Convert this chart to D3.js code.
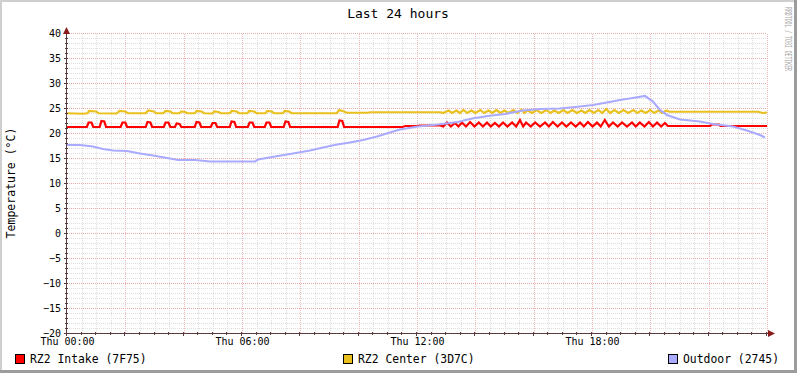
<!DOCTYPE html>
<html>
<head>
<meta charset="utf-8">
<script src="https://cdn.jsdelivr.net/npm/d3@7"></script>
<style>
  html, body { margin: 0; padding: 0; background: #fff; }
  svg { display: block; font-family: "DejaVu Sans Mono", monospace; }
</style>
</head>
<body>
<svg id="chart" width="797" height="373"></svg>
<script>
// series as [hour since Thu 00:00, temperature]
const intake = [
  [0,21.2],[0.68,21.2],[0.74,22.1],[0.84,22.1],[0.90,21.2],
  [1.12,21.2],[1.18,22.4],[1.28,22.3],[1.34,21.2],
  [1.84,21.2],[1.90,22.1],[2.00,22.1],[2.06,21.2],
  [2.70,21.2],[2.76,22.2],[2.86,22.1],[2.92,21.2],
  [3.32,21.2],[3.38,22.1],[3.48,22.1],[3.54,21.2],
  [3.70,21.2],[3.76,21.9],[3.86,21.8],[3.92,21.2],
  [4.38,21.2],[4.44,22.2],[4.54,22.1],[4.60,21.2],
  [4.93,21.2],[4.99,22.0],[5.09,22.0],[5.15,21.2],
  [5.58,21.2],[5.64,22.3],[5.74,22.2],[5.80,21.2],
  [6.20,21.2],[6.26,22.1],[6.36,22.1],[6.42,21.2],
  [6.78,21.2],[6.84,22.1],[6.94,22.1],[7.00,21.2],
  [7.43,21.2],[7.49,22.3],[7.59,22.2],[7.65,21.2],
  [9.28,21.2],[9.34,22.5],[9.44,22.4],[9.50,21.2],
  [11.5,21.2],[11.6,21.4],[12.0,21.4],[12.1,21.5],[12.8,21.5],
  [12.9,21.3],[13.03,22.1],[13.16,21.3],[13.30,22.0],[13.42,21.3],[13.54,22.1],[13.68,21.3],
  [13.82,22.2],[13.97,21.3],[14.12,22.1],[14.26,21.3],[14.40,22.1],[14.53,21.3],[14.67,22.0],
  [14.81,21.3],[14.95,22.1],[15.10,21.3],[15.26,22.1],[15.40,21.3],[15.53,22.6],[15.64,21.3],
  [15.74,22.1],[15.90,21.3],[16.05,22.1],[16.22,21.3],[16.39,22.1],[16.52,21.3],[16.66,22.2],
  [16.82,21.3],[16.97,22.1],[17.12,21.3],[17.28,22.1],[17.44,21.3],[17.59,22.1],[17.72,21.3],
  [17.86,22.2],[18.02,21.3],[18.17,22.1],[18.30,21.3],[18.44,22.6],[18.58,21.3],[18.72,22.1],
  [18.88,21.3],[19.03,22.1],[19.20,21.3],[19.37,22.1],[19.50,21.3],[19.64,22.1],[19.80,21.3],
  [19.95,22.2],[20.09,21.3],[20.23,22.1],[20.37,21.3],[20.50,22.0],[20.60,21.4],
  [22.05,21.4],[22.1,21.7],[22.35,21.7],[22.4,21.4],[24,21.4]
];
const center = [
  [0,23.95],[0.55,23.85],[0.70,23.95],[0.76,24.4],[1.0,24.3],[1.08,23.95],
  [1.7,23.9],[1.8,24.4],[2.0,24.3],[2.08,23.95],
  [2.7,23.95],[2.78,24.5],[2.98,24.3],[3.05,23.95],
  [3.3,23.95],[3.38,24.4],[3.55,24.3],[3.62,23.95],
  [3.85,23.95],[3.92,24.3],[4.05,24.2],[4.12,23.95],
  [4.38,23.95],[4.45,24.4],[4.62,24.3],[4.7,23.95],
  [4.98,23.9],[5.05,24.3],[5.2,24.2],[5.27,23.95],
  [5.58,23.95],[5.65,24.4],[5.82,24.3],[5.9,23.95],
  [6.18,23.95],[6.25,24.4],[6.42,24.3],[6.5,23.95],
  [6.8,23.95],[6.87,24.4],[7.02,24.3],[7.1,23.95],
  [7.4,23.95],[7.47,24.4],[7.62,24.3],[7.7,23.95],
  [9.25,23.95],[9.33,24.6],[9.5,24.3],[9.58,24.05],
  [10.3,24.05],[10.4,24.15],[12.8,24.15],
  [12.9,24.0],[13.08,24.5],[13.2,24.0],[13.35,24.5],[13.47,24.0],[13.59,24.6],[13.72,24.0],
  [13.87,24.5],[14.0,24.0],[14.17,24.6],[14.3,24.0],[14.45,24.5],[14.58,24.0],[14.72,24.6],
  [14.86,24.0],[15.0,24.5],[15.14,24.0],[15.31,24.6],[15.44,24.0],[15.58,24.7],[15.68,24.0],
  [15.79,24.5],[15.95,24.0],[16.1,24.6],[16.26,24.0],[16.44,24.6],[16.57,24.0],[16.71,24.5],
  [16.86,24.0],[17.02,24.6],[17.16,24.0],[17.33,24.6],[17.48,24.0],[17.64,24.5],[17.77,24.0],
  [17.91,24.6],[18.06,24.0],[18.22,24.6],[18.35,24.0],[18.49,24.8],[18.62,24.0],[18.77,24.6],
  [18.92,24.0],[19.08,24.6],[19.24,24.0],[19.42,24.6],[19.55,24.0],[19.69,24.5],[19.84,24.0],
  [20.0,24.6],[20.13,24.0],[20.28,24.5],[20.41,24.0],[20.55,24.5],[20.65,24.25],
  [23.7,24.25],[23.85,24.0],[24,24.1]
];
const outdoor = [
  [0,17.6],[0.45,17.6],[0.89,17.3],[1.23,16.8],[1.58,16.5],[2.06,16.4],[2.5,15.9],
  [2.95,15.5],[3.43,15.0],[3.81,14.6],[4.39,14.6],[4.9,14.3],[6.45,14.3],[6.55,14.7],
  [7.13,15.3],[7.75,15.9],[8.33,16.5],[8.78,17.1],[9.26,17.7],[9.7,18.1],[10.15,18.6],
  [10.63,19.3],[11.07,20.1],[11.42,20.7],[12.03,21.3],[12.72,21.7],[13.4,22.2],[13.89,22.9],
  [14.43,23.4],[15.02,23.8],[15.63,24.5],[16.22,24.8],[16.9,24.9],[17.59,25.3],[18.03,25.6],
  [18.51,26.1],[18.96,26.6],[19.4,27.0],[19.82,27.4],[20.09,26.3],[20.33,24.6],[20.57,23.6],
  [21.02,22.7],[21.7,22.3],[22.15,21.8],[22.83,21.3],[23.31,20.5],[23.76,19.6],[23.93,19.1]
];

const seriesNames = ['RZ2 Intake (7F75)', 'RZ2 Center (3D7C)', 'Outdoor (2745)'];
const seriesColors = ['#ff0000', '#eac01e', '#aaaaff'];
const xTickHours = [0, 6, 12, 18];
const xTickLabels = ['Thu 00:00', 'Thu 06:00', 'Thu 12:00', 'Thu 18:00'];
const yTicks = [-20, -15, -10, -5, 0, 5, 10, 15, 20, 25, 30, 35, 40];

const svg = d3.select('#chart');
const W = 797, H = 373;

// frame (rrdtool shade)
svg.append('rect').attr('width', W).attr('height', H).attr('fill', '#fff');
svg.append('rect').attr('x', 0).attr('y', 0).attr('width', W).attr('height', 2).attr('fill', '#cfcfcf');
svg.append('rect').attr('x', 0).attr('y', 0).attr('width', 2).attr('height', H).attr('fill', '#cfcfcf');
svg.append('rect').attr('x', 0).attr('y', H - 3).attr('width', W).attr('height', 3).attr('fill', '#9c9c9c');
svg.append('rect').attr('x', W - 3).attr('y', 0).attr('width', 3).attr('height', H).attr('fill', '#9c9c9c');

const x = d3.scaleLinear().domain([0, 24]).range([67, 767]);
const y = d3.scaleLinear().domain([-20, 40]).range([333, 33]);

const grid = svg.append('g').attr('shape-rendering', 'crispEdges');
// minor grid (skip where a major line sits)
grid.selectAll('.vmin').data(d3.range(0, 24.01, 0.5).filter(d => d % 2 !== 0)).enter().append('line')
  .attr('x1', d => Math.round(x(d)) + 0.5).attr('x2', d => Math.round(x(d)) + 0.5)
  .attr('y1', y(-20)).attr('y2', y(40))
  .attr('stroke', '#dedede').attr('stroke-dasharray', '1,1');
grid.selectAll('.hmin').data(d3.range(-20, 40.01, 1).filter(d => d % 5 !== 0)).enter().append('line')
  .attr('y1', d => Math.round(y(d)) + 0.5).attr('y2', d => Math.round(y(d)) + 0.5)
  .attr('x1', x(0)).attr('x2', x(24))
  .attr('stroke', '#dedede').attr('stroke-dasharray', '1,1');
// major grid
grid.selectAll('.vmaj').data(d3.range(2, 24.01, 2)).enter().append('line')
  .attr('x1', d => Math.round(x(d)) + 0.5).attr('x2', d => Math.round(x(d)) + 0.5)
  .attr('y1', y(-20)).attr('y2', y(40))
  .attr('stroke', '#efb8b8').attr('stroke-dasharray', '1,1');
grid.selectAll('.hmaj').data(yTicks).enter().append('line')
  .attr('y1', d => Math.round(y(d)) + 0.5).attr('y2', d => Math.round(y(d)) + 0.5)
  .attr('x1', x(0)).attr('x2', x(24))
  .attr('stroke', '#eaaaaa').attr('stroke-dasharray', '1,1');

// series lines, outdoor on top
const line = d3.line().x(d => x(d[0])).y(d => y(d[1]));
[intake, center, outdoor].forEach((s, i) => {
  svg.append('path').datum(s).attr('d', line)
    .attr('fill', 'none').attr('stroke', seriesColors[i]).attr('stroke-width', 2.2)
    .attr('stroke-linejoin', 'miter');
});

// axes
const axisCol = '#5a3c3c';
const ax = svg.append('g').attr('shape-rendering', 'crispEdges');
ax.append('line').attr('x1', x(0) - 0.5).attr('x2', x(0) - 0.5).attr('y1', y(-20) + 2).attr('y2', 28).attr('stroke', axisCol);
ax.append('line').attr('x1', x(0) - 3).attr('x2', 770).attr('y1', y(-20) + 0.5).attr('y2', y(-20) + 0.5).attr('stroke', axisCol);
ax.selectAll('.yt').data(d3.range(-20, 40.01, 1)).enter().append('line')
  .attr('x1', d => d % 5 === 0 ? x(0) - 3 : x(0) - 2).attr('x2', x(0) + 1)
  .attr('y1', d => Math.round(y(d)) + 0.5).attr('y2', d => Math.round(y(d)) + 0.5).attr('stroke', axisCol);
ax.selectAll('.xt').data(d3.range(0, 24.01, 0.5)).enter().append('line')
  .attr('x1', d => Math.round(x(d)) - 0.5).attr('x2', d => Math.round(x(d)) - 0.5)
  .attr('y1', y(-20) - 1).attr('y2', d => d % 2 === 0 ? y(-20) + 3 : y(-20) + 2).attr('stroke', axisCol);
// arrows
svg.append('path').attr('d', `M${x(0) - 4},34 L${x(0) - 0.5},27 L${x(0) + 3},34 Z`).attr('fill', '#8b1a1a');
svg.append('path').attr('d', `M768,${y(-20) - 3} L775,${y(-20) + 0.5} L768,${y(-20) + 4} Z`).attr('fill', '#8b1a1a');

// tick labels
const yAxis = d3.axisLeft(y).tickValues(yTicks).tickSize(0).tickPadding(6).tickFormat(d3.format('d'));
const yg = svg.append('g').attr('transform', `translate(${x(0)},0)`).call(yAxis);
yg.select('.domain').remove();
yg.selectAll('text').attr('font-family', 'DejaVu Sans Mono').attr('font-size', 10).attr('fill', '#000');

const xAxis = d3.axisBottom(x).tickValues(xTickHours).tickSize(0).tickPadding(5)
  .tickFormat((d, i) => xTickLabels[i]);
const xg = svg.append('g').attr('transform', `translate(0,${y(-20)})`).call(xAxis);
xg.select('.domain').remove();
xg.selectAll('text').attr('font-family', 'DejaVu Sans Mono').attr('font-size', 10).attr('fill', '#000');

// title and labels
svg.append('text').attr('x', 398).attr('y', 18).attr('text-anchor', 'middle')
  .attr('font-size', 13).text('Last 24 hours');
svg.append('text').attr('transform', `translate(15,${183}) rotate(-90)`).attr('text-anchor', 'middle')
  .attr('font-size', 11.5).text('Temperature (°C)');
svg.append('text').attr('transform', 'translate(785,7) rotate(90)')
  .attr('font-size', 8).attr('fill', '#a8a8a8')
  .attr('textLength', 64).attr('lengthAdjust', 'spacingAndGlyphs')
  .text('RRDTOOL / TOBI OETIKER');

// legend
const legendX = [15, 343, 668];
seriesNames.forEach((n, i) => {
  svg.append('rect').attr('x', legendX[i] + 0.5).attr('y', 354.5).attr('width', 9).attr('height', 9)
    .attr('fill', seriesColors[i]).attr('stroke', '#000').attr('shape-rendering', 'crispEdges');
  svg.append('text').attr('x', legendX[i] + 15).attr('y', 363).attr('font-size', 11.4).text(n);
});
</script>
</body>
</html>
